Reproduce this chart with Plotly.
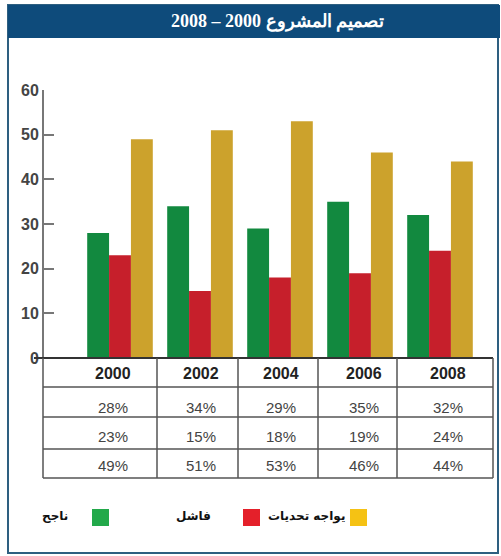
import plotly.graph_objects as go

years = ["2000", "2002", "2004", "2006", "2008"]
success = [28, 34, 29, 35, 32]
failed = [23, 15, 18, 19, 24]
challenged = [49, 51, 53, 46, 44]
series_names = ["ناجح", "فاشل", "يواجه تحديات"]
title_text = "2008 – 2000 تصميم المشروع"
y_ticks = [0, 10, 20, 30, 40, 50, 60]

bar_colors = ["#12893f", "#c61f2b", "#cca22c"]
legend_colors = ["#22a94a", "#e4202a", "#f5c214"]

W, H = 501, 556
ML, MR, MT, MB = 44, 8, 90, 198
PW = W - ML - MR
PH = H - MT - MB


def px(x):
    return (x - ML) / PW


def py(y):
    return (H - MB - y) / PH


xs = list(range(len(years)))
fig = go.Figure()
for vals, name, col in zip([success, failed, challenged], series_names, bar_colors):
    fig.add_trace(go.Bar(x=xs, y=vals, name=name, marker=dict(color=col, line=dict(width=0)),
                         showlegend=False, hoverinfo="y"))

shapes = []
annots = []
# outer frame
shapes.append(dict(type="rect", xref="paper", yref="paper", x0=px(8), x1=px(498), y0=py(553), y1=py(5),
                   line=dict(color="#2e5f80", width=2), fillcolor="rgba(0,0,0,0)", layer="below"))
# title bar
shapes.append(dict(type="rect", xref="paper", yref="paper", x0=px(8), x1=px(500), y0=py(38), y1=py(5),
                   line=dict(width=0), fillcolor="#0e4b7b", layer="below"))
annots.append(dict(xref="paper", yref="paper", x=px(277), y=py(22), text="<b>" + title_text + "</b>",
                   showarrow=False, font=dict(family="Liberation Serif, DejaVu Serif", size=18, color="white"),
                   xanchor="center", yanchor="middle"))

# x axis baseline
shapes.append(dict(type="line", xref="paper", yref="paper", x0=px(34), x1=px(493), y0=py(358), y1=py(358),
                   line=dict(color="#333", width=2)))

# table
row_lines = [387, 417, 449, 478]
col_lines = [43, 157, 238, 318, 397, 493]
for y in row_lines:
    shapes.append(dict(type="line", xref="paper", yref="paper", x0=px(43), x1=px(493), y0=py(y), y1=py(y),
                       line=dict(color="#555", width=1.5)))
for x in col_lines:
    shapes.append(dict(type="line", xref="paper", yref="paper", x0=px(x), x1=px(x), y0=py(358), y1=py(478),
                       line=dict(color="#555", width=1.5)))

text_x = [113, 201, 281, 364, 448]
row_y = [373, 407, 436, 465]
for i, yr in enumerate(years):
    annots.append(dict(xref="paper", yref="paper", x=px(text_x[i]), y=py(row_y[0]), text="<b>" + yr + "</b>",
                       showarrow=False, font=dict(family="Liberation Sans, Arial", size=16, color="#222"),
                       xanchor="center", yanchor="middle"))
    for r, vals in enumerate([success, failed, challenged]):
        annots.append(dict(xref="paper", yref="paper", x=px(text_x[i]), y=py(row_y[r + 1]),
                           text=f"{vals[i]}%", showarrow=False,
                           font=dict(family="Liberation Sans, Arial", size=15, color="#444"),
                           xanchor="center", yanchor="middle"))

# legend
sq_x = [92, 243, 350]
lab_x = [70, 213, 347]
for i in range(3):
    shapes.append(dict(type="rect", xref="paper", yref="paper", x0=px(sq_x[i]), x1=px(sq_x[i] + 17),
                       y0=py(526), y1=py(509), line=dict(width=0), fillcolor=legend_colors[i]))
    annots.append(dict(xref="paper", yref="paper", x=px(lab_x[i]), y=py(516), text="<b>" + series_names[i] + "</b>",
                       showarrow=False, font=dict(family="DejaVu Sans", size=12, color="#111"),
                       xanchor="right", yanchor="middle"))

fig.update_layout(
    width=W, height=H,
    margin=dict(l=ML, r=MR, t=MT, b=MB, pad=0),
    paper_bgcolor="white", plot_bgcolor="white",
    barmode="group", bargap=0.18, bargroupgap=0,
    shapes=shapes, annotations=annots,
    xaxis=dict(range=[-0.95, 4.6625], showticklabels=False, ticks="", showgrid=False, zeroline=False,
               showline=False),
    yaxis=dict(range=[0, 60], tickvals=y_ticks, ticktext=[f"<b>{v}</b>" for v in y_ticks], ticks="inside",
               ticklen=10, tickwidth=1.5, tickcolor="#777", showline=True, linecolor="#777", linewidth=2,
               showgrid=False, zeroline=False,
               tickfont=dict(family="Liberation Sans, Arial", size=16, color="#444")),
)

fig.write_html("out.html", config={"displayModeBar": False},
               post_script="document.body.style.margin='0';document.body.style.overflow='hidden';")
